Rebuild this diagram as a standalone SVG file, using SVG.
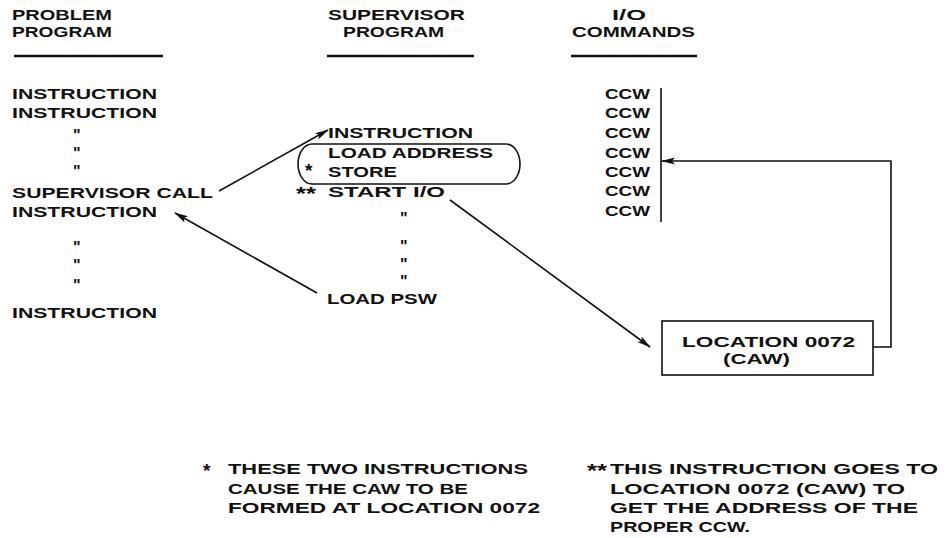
<svg xmlns="http://www.w3.org/2000/svg" width="948" height="538" viewBox="0 0 948 538">
<defs>
<style>
text{font-family:"Liberation Sans",Arial,sans-serif;font-weight:bold;font-size:15px;fill:#111}
.d{font-size:16px}
.s{font-size:19px}
.ln{stroke:#111;stroke-width:1.6;fill:none}
.ul{stroke:#111;stroke-width:2.6}
</style>
<marker id="ah" viewBox="0 0 14 8" refX="13" refY="4" markerWidth="14" markerHeight="8" markerUnits="userSpaceOnUse" orient="auto">
<path d="M0,0.5 L14,4 L0,7.5 L3,4 Z" fill="#111"/>
</marker>
</defs>
<rect width="948" height="538" fill="#fff"/>

<g id="problem-program">
<text x="12" y="20" textLength="100" lengthAdjust="spacingAndGlyphs">PROBLEM</text>
<text x="12" y="37" textLength="100" lengthAdjust="spacingAndGlyphs">PROGRAM</text>
<line class="ul" x1="14" y1="56" x2="163" y2="56"/>
<text x="12" y="99" textLength="145" lengthAdjust="spacingAndGlyphs">INSTRUCTION</text>
<text x="12" y="118" textLength="145" lengthAdjust="spacingAndGlyphs">INSTRUCTION</text>
<text class="d" x="73" y="141">"</text>
<text class="d" x="73" y="159">"</text>
<text class="d" x="73" y="177">"</text>
<text x="12" y="198" textLength="201" lengthAdjust="spacingAndGlyphs">SUPERVISOR CALL</text>
<text x="12" y="217" textLength="145" lengthAdjust="spacingAndGlyphs">INSTRUCTION</text>
<text class="d" x="73" y="253">"</text>
<text class="d" x="73" y="271">"</text>
<text class="d" x="73" y="291">"</text>
<text x="12" y="318" textLength="145" lengthAdjust="spacingAndGlyphs">INSTRUCTION</text>
</g>

<g id="supervisor-program">
<text x="328" y="20" textLength="137" lengthAdjust="spacingAndGlyphs">SUPERVISOR</text>
<text x="343" y="37" textLength="101" lengthAdjust="spacingAndGlyphs">PROGRAM</text>
<line class="ul" x1="327" y1="56" x2="474" y2="56"/>
<text x="328" y="138" textLength="145" lengthAdjust="spacingAndGlyphs">INSTRUCTION</text>
<rect class="ln" x="298" y="144" width="222" height="40" rx="14" ry="20"/>
<text x="328" y="158" textLength="165" lengthAdjust="spacingAndGlyphs">LOAD ADDRESS</text>
<text class="s" x="305" y="177">*</text>
<text x="328" y="177" textLength="69" lengthAdjust="spacingAndGlyphs">STORE</text>
<text class="s" x="296" y="200" textLength="20" lengthAdjust="spacingAndGlyphs">**</text>
<text x="328" y="197" textLength="117" lengthAdjust="spacingAndGlyphs">START I/O</text>
<text class="d" x="400" y="224">"</text>
<text class="d" x="400" y="252">"</text>
<text class="d" x="400" y="270">"</text>
<text class="d" x="400" y="287">"</text>
<text x="327" y="304" textLength="110" lengthAdjust="spacingAndGlyphs">LOAD PSW</text>
</g>

<g id="io-commands">
<text x="612" y="20" textLength="34" lengthAdjust="spacingAndGlyphs">I/O</text>
<text x="572" y="37" textLength="123" lengthAdjust="spacingAndGlyphs">COMMANDS</text>
<line class="ul" x1="571" y1="56" x2="697" y2="56"/>
<text x="605" y="99" textLength="45" lengthAdjust="spacingAndGlyphs">CCW</text>
<text x="605" y="118" textLength="45" lengthAdjust="spacingAndGlyphs">CCW</text>
<text x="605" y="138" textLength="45" lengthAdjust="spacingAndGlyphs">CCW</text>
<text x="605" y="158" textLength="45" lengthAdjust="spacingAndGlyphs">CCW</text>
<text x="605" y="177" textLength="45" lengthAdjust="spacingAndGlyphs">CCW</text>
<text x="605" y="196" textLength="45" lengthAdjust="spacingAndGlyphs">CCW</text>
<text x="605" y="216" textLength="45" lengthAdjust="spacingAndGlyphs">CCW</text>
<line class="ln" x1="661" y1="88" x2="661" y2="222"/>
</g>

<g id="location-0072">
<rect class="ln" x="662" y="321" width="211" height="54"/>
<text x="682" y="347" textLength="173" lengthAdjust="spacingAndGlyphs">LOCATION 0072</text>
<text x="723" y="364" textLength="67" lengthAdjust="spacingAndGlyphs">(CAW)</text>
</g>

<g id="connectors">
<line class="ln" x1="219" y1="191" x2="328" y2="130" marker-end="url(#ah)"/>
<line class="ln" x1="317" y1="293" x2="175" y2="213" marker-end="url(#ah)"/>
<line class="ln" x1="450" y1="200" x2="650" y2="347" marker-end="url(#ah)"/>
<polyline class="ln" points="873,347 891,347 891,161 662,161" marker-end="url(#ah)"/>
</g>

<g id="notes">
<text class="s" x="203" y="477">*</text>
<text x="228" y="474" textLength="300" lengthAdjust="spacingAndGlyphs">THESE TWO INSTRUCTIONS</text>
<text x="228" y="494" textLength="240" lengthAdjust="spacingAndGlyphs">CAUSE THE CAW TO BE</text>
<text x="228" y="513" textLength="312" lengthAdjust="spacingAndGlyphs">FORMED AT LOCATION 0072</text>
<text class="s" x="587" y="477" textLength="20" lengthAdjust="spacingAndGlyphs">**</text>
<text x="610" y="474" textLength="328" lengthAdjust="spacingAndGlyphs">THIS INSTRUCTION GOES TO</text>
<text x="610" y="494" textLength="295" lengthAdjust="spacingAndGlyphs">LOCATION 0072 (CAW) TO</text>
<text x="610" y="513" textLength="308" lengthAdjust="spacingAndGlyphs">GET THE ADDRESS OF THE</text>
<text x="610" y="532" textLength="140" lengthAdjust="spacingAndGlyphs">PROPER CCW.</text>
</g>
</svg>
